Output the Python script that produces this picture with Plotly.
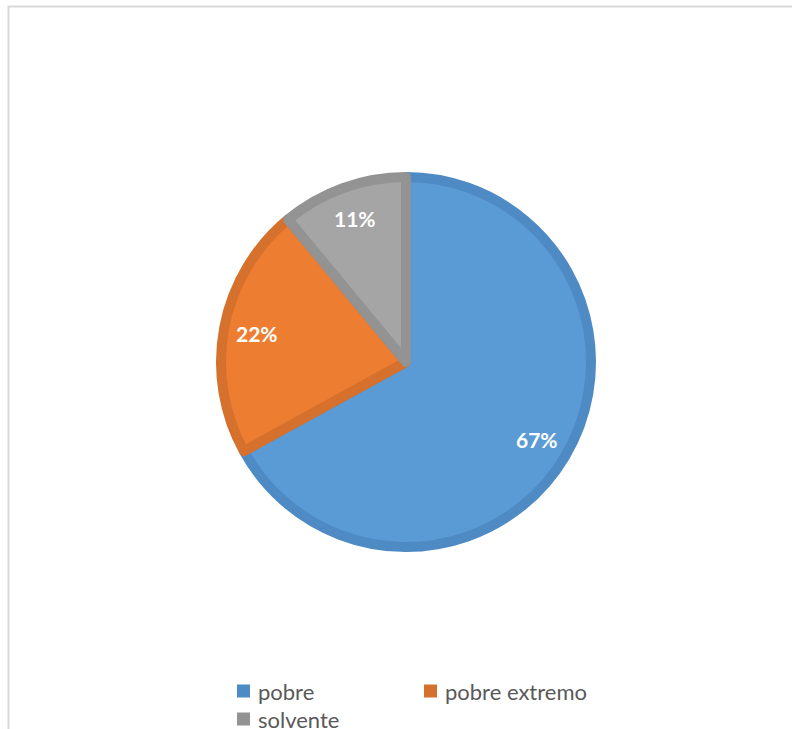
import math
import plotly.graph_objects as go

# Share of households by poverty status (%)
categories = ["pobre", "pobre extremo", "solvente"]
shares = [67, 22, 11]
fill_colors = ["#5B9BD5", "#ED7D31", "#A5A5A5"]
edge_colors = ["#4E8AC4", "#D5712D", "#939393"]

W, H = 792, 729
cx, cy = 406, 362          # pie centre in pixels (from top-left)
r_path = 185               # slice radius in pixels
edge_w = 10

def px_x(x):
    return x / W

def px_y(y):
    return 1 - y / H

fig = go.Figure()

fig.add_trace(go.Pie(
    labels=categories,
    values=shares,
    sort=False,
    direction="clockwise",
    rotation=0,
    marker=dict(colors=fill_colors, line=dict(color=edge_colors, width=edge_w)),
    textinfo="none",
    hoverinfo="skip",
    showlegend=False,
    domain=dict(x=[px_x(cx - r_path), px_x(cx + r_path)],
                y=[px_y(cy + r_path), px_y(cy - r_path)]),
))

# Percentage labels placed inside each slice along its mid-angle
total = sum(shares)
outer_r = r_path + edge_w / 2
label_frac = 0.8
annotations = []
start = 0.0
for name, v in zip(categories, shares):
    span = 360.0 * v / total
    mid = math.radians(start + span / 2)
    start += span
    lx = cx + label_frac * outer_r * math.sin(mid)
    ly = cy - label_frac * outer_r * math.cos(mid)
    annotations.append(dict(
        x=px_x(lx), y=px_y(ly), xref="paper", yref="paper",
        text=f"{round(100 * v / total)}%", showarrow=False,
        xanchor="center", yanchor="middle",
        font=dict(family="Lato", size=21, color="white", weight="bold"),
    ))

# Legend: two columns, wrapping onto a second row
shapes = []
col_x = [237, 424]
row_y = [691, 719]
sw = 13
for i, (name, col) in enumerate(zip(categories, edge_colors)):
    x0 = col_x[i % 2]
    yc = row_y[i // 2]
    shapes.append(dict(
        type="rect", xref="paper", yref="paper",
        x0=px_x(x0), x1=px_x(x0 + sw), y0=px_y(yc + sw / 2), y1=px_y(yc - sw / 2),
        fillcolor=col, line=dict(width=0),
    ))
    annotations.append(dict(
        x=px_x(x0 + sw + 6), y=px_y(yc), xref="paper", yref="paper",
        text=name, showarrow=False, xanchor="left", yanchor="middle",
        font=dict(family="Lato", size=22, color="#595959"),
    ))

# Chart-area frame
shapes.append(dict(
    type="rect", xref="paper", yref="paper",
    x0=px_x(8.5), x1=px_x(W + 20), y0=px_y(H + 20), y1=px_y(6.5),
    line=dict(color="#D9D9D9", width=2), fillcolor="rgba(0,0,0,0)", layer="below",
))

fig.update_layout(
    width=W, height=H,
    margin=dict(l=0, r=0, t=0, b=0),
    paper_bgcolor="white",
    plot_bgcolor="white",
    shapes=shapes,
    annotations=annotations,
    showlegend=False,
)

fig.write_html("out.html")
